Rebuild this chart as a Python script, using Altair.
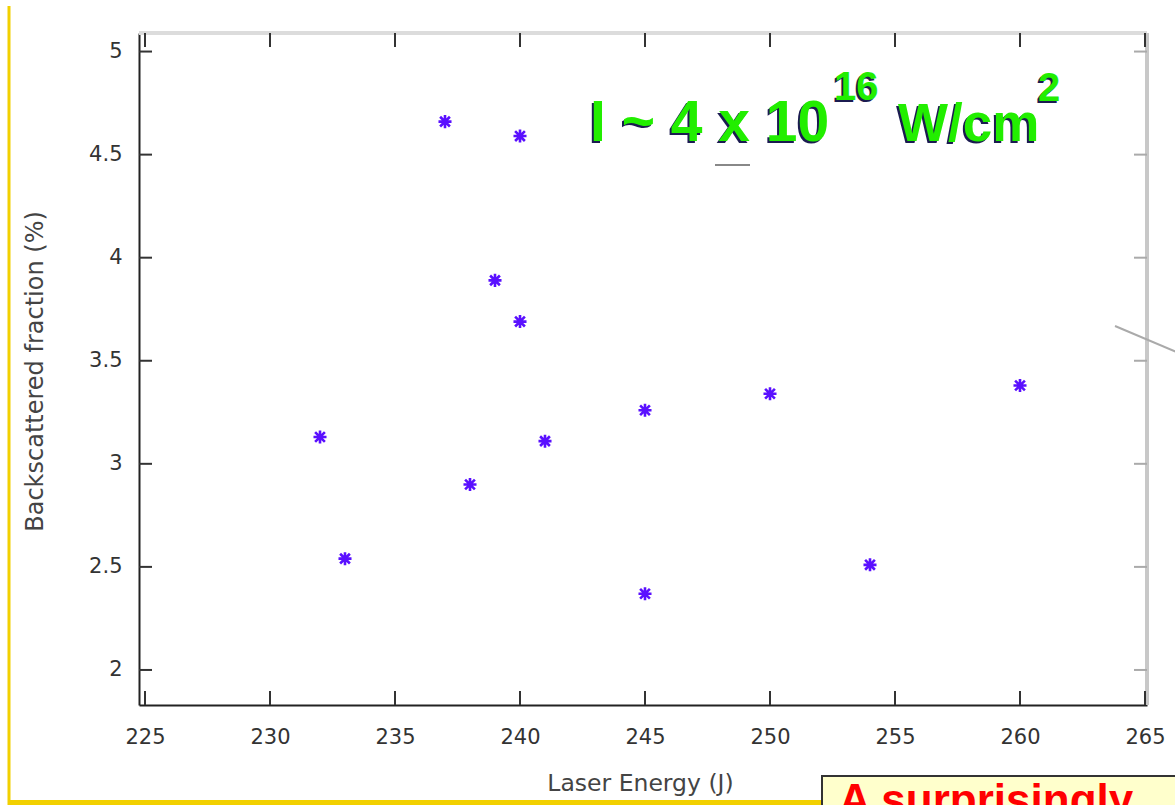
import altair as alt
import pandas as pd

# Data
energy = [232, 233, 237, 238, 239, 240, 240, 241, 245, 245, 250, 254, 260]
fraction = [3.13, 2.54, 4.66, 2.90, 3.89, 4.59, 3.69, 3.11, 3.26, 2.37, 3.34, 2.51, 3.38]
x_ticks = [225, 230, 235, 240, 245, 250, 255, 260, 265]
y_ticks = [2, 2.5, 3, 3.5, 4, 4.5, 5]

W, H = 1008, 672
FONT = "DejaVu Sans"

pts = pd.DataFrame({"E": energy, "F": fraction})
xt = pd.DataFrame({"E": x_ticks})
yt = pd.DataFrame({"F": y_ticks})

xs = alt.Scale(domain=[224.76, 265.08], nice=False, zero=False)
ys = alt.Scale(domain=[1.83, 5.09], nice=False, zero=False)

star = "M-1,0L1,0M0,-1L0,1M-0.75,-0.75L0.75,0.75M-0.75,0.75L0.75,-0.75"

base = alt.Chart(pts).mark_point(
    shape=star, filled=False, size=170, strokeWidth=2.6, color="#5a10ff", opacity=1
).encode(
    x=alt.X("E:Q", scale=xs, axis=alt.Axis(
        values=x_ticks, format="d", ticks=False, grid=False,
        labelFont=FONT, labelFontSize=21, labelColor="#333", labelPadding=21,
        domainColor="#222", domainWidth=2,
        title="Laser Energy (J)", titleFont=FONT, titleFontSize=23.5,
        titleFontWeight="normal", titleColor="#444",
        titleX=501, titleY=78, titleBaseline="middle", titleAlign="center")),
    y=alt.Y("F:Q", scale=ys, axis=alt.Axis(
        values=y_ticks, format="~g", ticks=False, grid=False,
        labelFont=FONT, labelFontSize=21, labelColor="#333", labelPadding=17,
        domainColor="#222", domainWidth=2,
        title="Backscattered fraction (%)", titleFont=FONT, titleFontSize=24,
        titleFontWeight="normal", titleColor="#444",
        titleX=-104, titleY=338, titleAngle=270, titleBaseline="middle",
        titleAlign="center")),
)

# frame (top / right light gray)
top_border = alt.Chart(xt).mark_rule(color="#dcdcdc", strokeWidth=4).encode(
    x=alt.value(0), x2=alt.value(W), y=alt.value(0))
right_border = alt.Chart(xt).mark_rule(color="#c8c8c8", strokeWidth=3).encode(
    x=alt.value(W), y=alt.value(0), y2=alt.value(H))

# inward ticks
bot_ticks = alt.Chart(xt).mark_rule(color="#333", strokeWidth=2).encode(
    x=alt.X("E:Q", scale=xs), y=alt.value(H), y2=alt.value(H - 14))
top_ticks = alt.Chart(xt).mark_rule(color="#333", strokeWidth=2).encode(
    x=alt.X("E:Q", scale=xs), y=alt.value(0), y2=alt.value(14))
left_ticks = alt.Chart(yt).mark_rule(color="#333", strokeWidth=2).encode(
    y=alt.Y("F:Q", scale=ys), x=alt.value(0), x2=alt.value(13))
right_ticks = alt.Chart(yt).mark_rule(color="#aaa", strokeWidth=2).encode(
    y=alt.Y("F:Q", scale=ys), x=alt.value(W), x2=alt.value(W - 13))

# slide decorations
one = pd.DataFrame({"a": [0]})
yellow_v = alt.Chart(one).mark_rule(color="#f2d000", strokeWidth=3).encode(
    x=alt.value(-130), y=alt.value(-27), y2=alt.value(775))
yellow_h = alt.Chart(one).mark_rule(color="#f2d000", strokeWidth=6).encode(
    x=alt.value(-131), x2=alt.value(690), y=alt.value(770))
box = alt.Chart(one).mark_rect(fill="#ffffcc", stroke="#333", strokeWidth=2).encode(
    x=alt.value(683), x2=alt.value(1080), y=alt.value(743), y2=alt.value(800))
box_text = alt.Chart(one).mark_text(
    text="A surprisingly", font="Liberation Sans", fontWeight="bold", fontSize=44,
    color="#ff0000", align="left", baseline="alphabetic").encode(
    x=alt.value(700), y=alt.value(782))
gray_line = alt.Chart(one).mark_rule(color="#aaa", strokeWidth=2).encode(
    x=alt.value(976), x2=alt.value(1040), y=alt.value(293), y2=alt.value(320))
dash = alt.Chart(one).mark_rule(color="#888", strokeWidth=2).encode(
    x=alt.value(576), x2=alt.value(611), y=alt.value(132))

# title "I ~ 4 x 10^16 W/cm^2"
pieces = [
    ("I ~ 4 x 10", 451, 108, 57),
    ("16", 695, 67, 40),
    ("W/cm", 759, 108, 53),
    ("2", 899, 68, 40),
]
title_layers = []
for txt, px, py, fs in pieces:
    for col, dx, dy in [("#1b1b50", -2, 2), ("#22ee00", 0, 0)]:
        title_layers.append(
            alt.Chart(one).mark_text(
                text=txt, font="Liberation Sans", fontWeight="bold", fontSize=fs,
                color=col, align="left", baseline="alphabetic").encode(
                x=alt.value(px + dx), y=alt.value(py + dy)))

chart = alt.layer(
    top_border, right_border, yellow_v, yellow_h, box, box_text, gray_line, dash,
    base, bot_ticks, top_ticks, left_ticks, right_ticks, *title_layers
).properties(
    width=W, height=H, background="white",
    padding={"left": 139, "top": 33, "right": 28, "bottom": 100},
    autosize=alt.AutoSizeParams(type="none"),
).configure_view(stroke=None)

chart.save("out.html", embed_options={"renderer": "svg", "actions": False})
